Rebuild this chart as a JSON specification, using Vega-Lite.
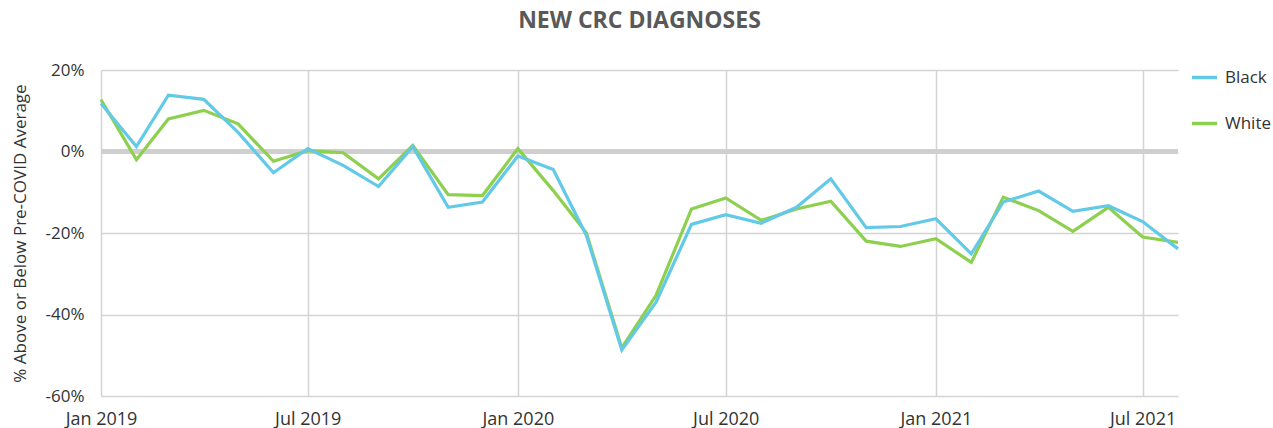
{
  "$schema": "https://vega.github.io/schema/vega-lite/v6.json",
  "autosize": {"type": "none"},
  "padding": {"left": 101, "top": 70, "right": 95, "bottom": 32},
  "width": 1077,
  "height": 326,
  "background": "white",
  "title": {
    "text": "NEW CRC DIAGNOSES",
    "font": "Open Sans",
    "fontSize": 23,
    "fontWeight": "bold",
    "color": "#595959",
    "anchor": "middle",
    "offset": 28
  },
  "config": {
    "view": {"stroke": null},
    "font": "Open Sans"
  },
  "data": {
    "values": [
      {"month": "2019-01-01", "group": "Black", "value": 11.8},
      {"month": "2019-02-01", "group": "Black", "value": 1.2},
      {"month": "2019-03-01", "group": "Black", "value": 13.8},
      {"month": "2019-04-01", "group": "Black", "value": 12.8},
      {"month": "2019-05-01", "group": "Black", "value": 4.7},
      {"month": "2019-06-01", "group": "Black", "value": -5.2},
      {"month": "2019-07-01", "group": "Black", "value": 0.7},
      {"month": "2019-08-01", "group": "Black", "value": -3.4},
      {"month": "2019-09-01", "group": "Black", "value": -8.6},
      {"month": "2019-10-01", "group": "Black", "value": 1.2},
      {"month": "2019-11-01", "group": "Black", "value": -13.7},
      {"month": "2019-12-01", "group": "Black", "value": -12.4},
      {"month": "2020-01-01", "group": "Black", "value": -1.1},
      {"month": "2020-02-01", "group": "Black", "value": -4.4},
      {"month": "2020-03-01", "group": "Black", "value": -20.6},
      {"month": "2020-04-01", "group": "Black", "value": -48.7},
      {"month": "2020-05-01", "group": "Black", "value": -37.0},
      {"month": "2020-06-01", "group": "Black", "value": -17.9},
      {"month": "2020-07-01", "group": "Black", "value": -15.5},
      {"month": "2020-08-01", "group": "Black", "value": -17.6},
      {"month": "2020-09-01", "group": "Black", "value": -13.7},
      {"month": "2020-10-01", "group": "Black", "value": -6.7},
      {"month": "2020-11-01", "group": "Black", "value": -18.7},
      {"month": "2020-12-01", "group": "Black", "value": -18.4},
      {"month": "2021-01-01", "group": "Black", "value": -16.5},
      {"month": "2021-02-01", "group": "Black", "value": -25.1},
      {"month": "2021-03-01", "group": "Black", "value": -12.4},
      {"month": "2021-04-01", "group": "Black", "value": -9.7},
      {"month": "2021-05-01", "group": "Black", "value": -14.7},
      {"month": "2021-06-01", "group": "Black", "value": -13.3},
      {"month": "2021-07-01", "group": "Black", "value": -17.2},
      {"month": "2021-08-01", "group": "Black", "value": -23.9},
      {"month": "2019-01-01", "group": "White", "value": 12.7},
      {"month": "2019-02-01", "group": "White", "value": -2.0},
      {"month": "2019-03-01", "group": "White", "value": 8.0},
      {"month": "2019-04-01", "group": "White", "value": 10.1},
      {"month": "2019-05-01", "group": "White", "value": 6.8},
      {"month": "2019-06-01", "group": "White", "value": -2.4},
      {"month": "2019-07-01", "group": "White", "value": 0.2},
      {"month": "2019-08-01", "group": "White", "value": -0.3},
      {"month": "2019-09-01", "group": "White", "value": -6.7},
      {"month": "2019-10-01", "group": "White", "value": 1.5},
      {"month": "2019-11-01", "group": "White", "value": -10.6},
      {"month": "2019-12-01", "group": "White", "value": -10.8},
      {"month": "2020-01-01", "group": "White", "value": 0.7},
      {"month": "2020-02-01", "group": "White", "value": -9.6},
      {"month": "2020-03-01", "group": "White", "value": -20.0},
      {"month": "2020-04-01", "group": "White", "value": -48.2},
      {"month": "2020-05-01", "group": "White", "value": -35.3},
      {"month": "2020-06-01", "group": "White", "value": -14.1},
      {"month": "2020-07-01", "group": "White", "value": -11.4},
      {"month": "2020-08-01", "group": "White", "value": -16.9},
      {"month": "2020-09-01", "group": "White", "value": -14.1},
      {"month": "2020-10-01", "group": "White", "value": -12.2},
      {"month": "2020-11-01", "group": "White", "value": -22.0},
      {"month": "2020-12-01", "group": "White", "value": -23.3},
      {"month": "2021-01-01", "group": "White", "value": -21.4},
      {"month": "2021-02-01", "group": "White", "value": -27.2},
      {"month": "2021-03-01", "group": "White", "value": -11.2},
      {"month": "2021-04-01", "group": "White", "value": -14.5},
      {"month": "2021-05-01", "group": "White", "value": -19.6},
      {"month": "2021-06-01", "group": "White", "value": -13.7},
      {"month": "2021-07-01", "group": "White", "value": -21.0},
      {"month": "2021-08-01", "group": "White", "value": -22.3}
    ]
  },
  "encoding": {
    "x": {
      "field": "month",
      "type": "temporal",
      "scale": {"domain": ["2019-01-01", "2021-08-01"], "nice": false},
      "axis": {
        "title": null,
        "format": "%b %Y",
        "values": ["2019-01-01", "2019-07-01", "2020-01-01", "2020-07-01", "2021-01-01", "2021-07-01"],
        "domain": false,
        "ticks": false,
        "labelPadding": 14,
        "labelFontSize": 18,
        "labelColor": "#333333",
        "labelFont": "Open Sans",
        "labelFlush": false,
        "labelOverlap": false,
        "grid": true,
        "gridColor": "#d4d4d4",
        "gridWidth": 1.5
      }
    },
    "y": {
      "field": "value",
      "type": "quantitative",
      "scale": {"domain": [-60, 20], "nice": false},
      "axis": {
        "title": "% Above or Below Pre-COVID Average",
        "titleFont": "Open Sans",
        "titleFontSize": 17,
        "titleFontWeight": "normal",
        "titleColor": "#333333",
        "titlePadding": 16,
        "values": [-60, -40, -20, 0, 20],
        "labelExpr": "datum.value + '%'",
        "domain": false,
        "ticks": false,
        "labelPadding": 17,
        "labelFontSize": 17,
        "labelColor": "#333333",
        "labelFont": "Open Sans",
        "grid": true,
        "gridColor": "#d4d4d4",
        "gridWidth": 1.5
      }
    },
    "color": {
      "field": "group",
      "type": "nominal",
      "scale": {"domain": ["Black", "White"], "range": ["#62c9e6", "#8dcf4f"]},
      "legend": {
        "title": null,
        "orient": "none",
        "legendX": 1089,
        "legendY": -7,
        "symbolType": "stroke",
        "symbolSize": 625,
        "symbolStrokeWidth": 3.5,
        "labelFontSize": 17,
        "labelFont": "Open Sans",
        "labelColor": "#333333",
        "labelOffset": 6,
        "rowPadding": 23
      }
    }
  },
  "layer": [
    {
      "mark": {"type": "rule", "strokeWidth": 3.5},
      "encoding": {"y": {"datum": 0}, "x": {"value": 0}, "x2": {"value": 1077}, "color": {"value": "#cfcfcf"}}
    },
    {
      "transform": [{"filter": "datum.group == 'White'"}],
      "mark": {"type": "line", "strokeWidth": 3.2}
    },
    {
      "transform": [{"filter": "datum.group == 'Black'"}],
      "mark": {"type": "line", "strokeWidth": 3.2}
    }
  ]
}
